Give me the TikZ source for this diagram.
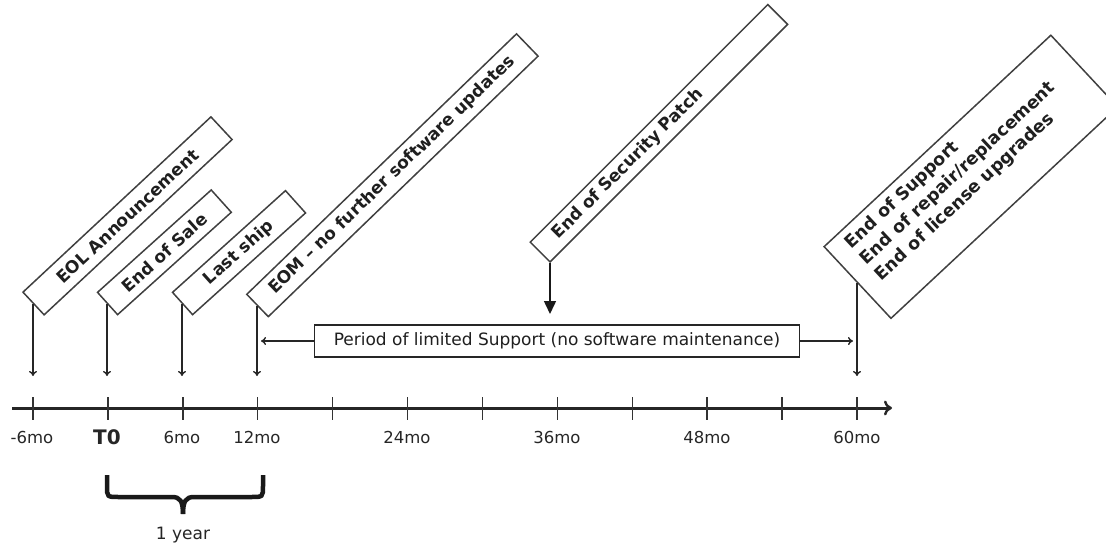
\documentclass[tikz,border=0pt]{standalone}
\usepackage{fontspec}
\setmainfont{DejaVu Sans}
\usetikzlibrary{arrows.meta}
\begin{document}
\begin{tikzpicture}[x=1pt,y=-1pt,
  lbl/.style={draw=black!75, line width=1.5pt, fill=white, text=black!88,
    font=\fontsize{17}{20}\selectfont\bfseries, inner sep=0pt},
  arr/.style={-{To[length=5pt,width=8pt]}, line width=1.4pt, draw=black!85},
  bigarr/.style={-{Triangle[length=13pt,width=12pt]}, line width=1.5pt, draw=black!90},
  axisline/.style={-{To[length=8pt,width=15pt,line width=2.4pt]}, line width=3pt, draw=black!85},
  tickmark/.style={line width=1.4pt, draw=black!80},
  ticklbl/.style={font=\fontsize{16.5}{19}\selectfont, text=black!85, inner sep=0pt},
  supbox/.style={draw=black!85, line width=1.4pt, fill=white, text=black!88,
    font=\fontsize{17}{20}\selectfont, minimum width=485pt, minimum height=32pt, inner sep=0pt}
]
\useasboundingbox (0,0) rectangle (1106,546);

% rotated label boxes
\node[lbl, rotate=43, anchor=west, minimum width=257pt, minimum height=31pt] (eol) at (33,304) {EOL Announcement};
\node[lbl, rotate=42, anchor=west, minimum width=153pt, minimum height=30pt] (sale) at (107,304) {End of Sale};
\node[lbl, rotate=42, anchor=west, minimum width=152pt, minimum height=30pt] (ship) at (182,304) {Last ship};
\node[lbl, rotate=44, anchor=west, minimum width=375pt, minimum height=31pt] (eom) at (257,306) {EOM -- no further software updates};
\node[lbl, rotate=45, anchor=south west, minimum width=336pt, minimum height=28pt,
      text width=292pt, inner xsep=22pt, align=left] (sec) at (550,263) {End of Security Patch};
\node[lbl, rotate=43, anchor=west, minimum width=310pt, minimum height=98pt] (eos) at (857,283) {};
\node[rotate=43, anchor=north west, align=left, inner xsep=19pt, inner ysep=8pt,
      font=\fontsize{17.5}{22}\selectfont\bfseries, text=black!88] (eostext) at (eos.north west)
      {End of Support\\End of repair/replacement\\End of license upgrades};

% arrow end points above the axis
\coordinate (e1) at (33,376);
\coordinate (e2) at (107,376);
\coordinate (e3) at (182,376);
\coordinate (e4) at (257,376);
\coordinate (e5) at (857,376);
\coordinate (secend) at (550,314);

\draw[arr] (eol.west) -- (eol.west |- e1);
\draw[arr] (sale.west) -- (sale.west |- e2);
\draw[arr] (ship.west) -- (ship.west |- e3);
\draw[arr] (eom.west) -- (eom.west |- e4);
\draw[arr] (eos.west) -- (eos.west |- e5);
\draw[bigarr] (sec.south west) -- (secend);

% limited support period
\node[supbox] (sup) at (557,341) {Period of limited Support (no software maintenance)};
\coordinate (lsup) at (261,341);
\coordinate (rsup) at (853,341);
\draw[arr] (sup.west) -- (lsup);
\draw[arr] (sup.east) -- (rsup);

% axis
\coordinate (ax0) at (12,408);
\coordinate (ax1) at (892,408);
\draw[axisline] (ax0) -- (ax1);
\foreach \k in {0,...,11}
  \draw[tickmark] ({33+74.9*\k},397) -- ({33+74.9*\k},420);

\node[ticklbl] (lm6) at (32,437) {-6mo};
\node[ticklbl, font=\fontsize{20}{23}\selectfont\bfseries] (lt0) at (107,437) {T0};
\node[ticklbl] (l6) at (182,437) {6mo};
\node[ticklbl] (l12) at (257,437) {12mo};
\node[ticklbl] (l24) at (407,437) {24mo};
\node[ticklbl] (l36) at (557,437) {36mo};
\node[ticklbl] (l48) at (707,437) {48mo};
\node[ticklbl] (l60) at (857,437) {60mo};

% brace
\draw[line width=4.5pt, draw=black!90, line cap=butt]
  (107,475) -- (107,486) .. controls (107,497) .. (119,497) -- (172,497)
  .. controls (180,497) and (183,501) .. (183,514);
\draw[line width=4.5pt, draw=black!90, line cap=butt]
  (263,475) -- (263,486) .. controls (263,497) .. (251,497) -- (194,497)
  .. controls (186,497) and (183,501) .. (183,514);
\node[ticklbl, font=\fontsize{17}{20}\selectfont] (year) at (183,535) {1 year};
\end{tikzpicture}
\end{document}
